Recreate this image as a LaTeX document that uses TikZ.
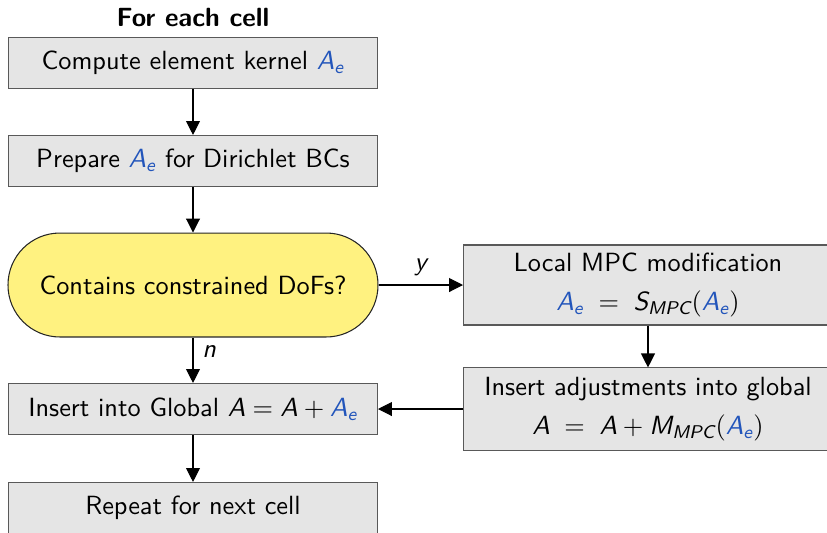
\documentclass[tikz,border=0pt]{standalone}
\usepackage{xcolor}
\usepackage{tikz}
\usetikzlibrary{arrows.meta, positioning}
\definecolor{kernblue}{RGB}{34,85,187}
\definecolor{checkyellow}{RGB}{255,242,128}
% lettere matematiche in sans inclinato
\DeclareMathAlphabet{\mathsfit}{TU}{lmss}{m}{sl}
\newcommand{\Ae}{\textcolor{kernblue}{\mathsfit{A}_{\mathsfit{e}}}}
\newcommand{\mv}[1]{\mathsfit{#1}}
\tikzset{
    stepbox/.style={rectangle, draw=black!65, fill=black!10, minimum width=140.2pt, minimum height=19.4pt, inner sep=2pt, align=center},
    checkbox/.style={rectangle, rounded corners=19.7pt, draw=black!85, fill=checkyellow, minimum width=140.6pt, minimum height=39.5pt},
    flow/.style={-{Triangle[width=5.3pt,length=5.3pt]}}
}

\begin{document}
\begin{tikzpicture}[x=0.38pt, y=-0.38pt, font=\sffamily]
    % Area della pagina (i blocchi a destra e in basso vengono tagliati)
    \useasboundingbox (0,0) rectangle (827,532);

    % Ciclo sulle celle
    \node[font=\sffamily\bfseries] (title) at (193,18) {For each cell};
    \node[stepbox] (kernel) at (193,63) {Compute element kernel $\Ae$};
    \node[stepbox] (prep) at (193,161) {Prepare $\Ae$ for Dirichlet BCs};
    \node[checkbox] (check) at (193,285) {Contains constrained DoFs?};

    % Ramo MPC
    \node[stepbox, minimum height=30.4pt] (local) at (648,285)
        {Local MPC modification\\[3pt] $\Ae \;=\; \mv{S}_{\mv{MPC}}(\Ae)$};
    \node[stepbox, minimum height=31.2pt] (adjust) at (648,409)
        {Insert adjustments into global\\[3pt] $\mv{A} \;=\; \mv{A} + \mv{M}_{\mv{MPC}}(\Ae)$};

    % Assemblaggio globale
    \node[stepbox] (insert) at (193,409) {Insert into Global $\mv{A} = \mv{A} + \Ae$};
    \node[stepbox] (repeat) at (193,508) {Repeat for next cell};

    % Frecce
    \draw[flow] (kernel) -- (prep);
    \draw[flow] (prep) -- (check);
    \draw[flow] (check) -- node[above] {$\mv{y}$} (local);
    \draw[flow] (check) -- node[right, pos=0.3] {$\mv{n}$} (insert);
    \draw[flow] (local) -- (adjust);
    \draw[flow] (adjust) -- (insert);
    \draw[flow] (insert) -- (repeat);
\end{tikzpicture}
\end{document}
